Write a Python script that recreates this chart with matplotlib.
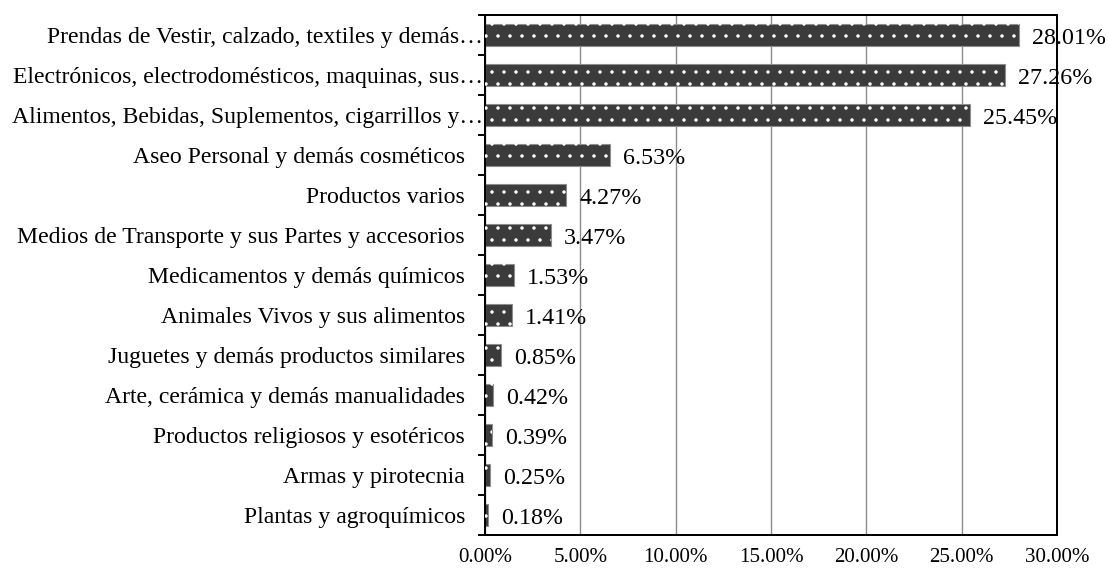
import numpy as np
import matplotlib.pyplot as plt
from matplotlib.transforms import ScaledTranslation

plt.rcParams['font.family'] = ['Liberation Serif', 'DejaVu Serif']
plt.rcParams['hatch.linewidth'] = 1.0

categorias = [
    'Prendas de Vestir, calzado, textiles y demás…',
    'Electrónicos, electrodomésticos, maquinas, sus…',
    'Alimentos, Bebidas, Suplementos, cigarrillos y…',
    'Aseo Personal y demás cosméticos',
    'Productos varios',
    'Medios de Transporte y sus Partes y accesorios',
    'Medicamentos y demás químicos',
    'Animales Vivos y sus alimentos',
    'Juguetes y demás productos similares',
    'Arte, cerámica y demás manualidades',
    'Productos religiosos y esotéricos',
    'Armas y pirotecnia',
    'Plantas y agroquímicos',
]
porcentajes = [28.01, 27.26, 25.45, 6.53, 4.27, 3.47, 1.53, 1.41, 0.85, 0.42, 0.39, 0.25, 0.18]
ticks_x = [0, 5, 10, 15, 20, 25, 30]

# dpi 72 -> 1 pt = 1 px, and the dot hatch gets roughly the spacing of the original
fig = plt.figure(figsize=(1109 / 72, 570 / 72), dpi=72)
ax = fig.add_axes([485 / 1109, 35 / 570, 572 / 1109, 520 / 570])

y = np.arange(len(categorias))
ax.barh(y, porcentajes, height=0.54, color='#3b3b3b', edgecolor='#8c8c8c', linewidth=1.1, zorder=2)
ax.barh(y, porcentajes, height=0.54, color='none', edgecolor='white', hatch='.', linewidth=0, zorder=3)

for yi, v in zip(y, porcentajes):
    ax.annotate(f'{v:.2f}%', (v, yi), xytext=(13, -3), textcoords='offset points',
                va='center', ha='left', fontsize=24)

ax.set_xlim(0, 30)
ax.set_ylim(len(categorias) - 0.5, -0.5)
ax.set_xticks(ticks_x)
ax.set_xticklabels([f'{t:.2f}%' for t in ticks_x], fontsize=21)
ax.set_yticks(y)
ax.set_yticklabels(categorias, fontsize=23.8)
ax.tick_params(axis='y', length=0, pad=20)
ax.tick_params(axis='x', length=0, pad=13)
ax.set_yticks(np.arange(-0.5, len(categorias), 1), minor=True)
ax.tick_params(axis='y', which='minor', length=7, width=2, direction='out')
ax.xaxis.grid(True, color='#8c8c8c', linewidth=1.4, zorder=0)
ax.set_axisbelow(True)
for s in ax.spines.values():
    s.set_linewidth(2)

# the cut-off labels sit closer to the axis
for lab in ax.get_yticklabels():
    if lab.get_text().endswith('…'):
        lab.set_transform(lab.get_transform() + ScaledTranslation(18 / 72, 0, fig.dpi_scale_trans))

fig.savefig('out.png', dpi=72)
